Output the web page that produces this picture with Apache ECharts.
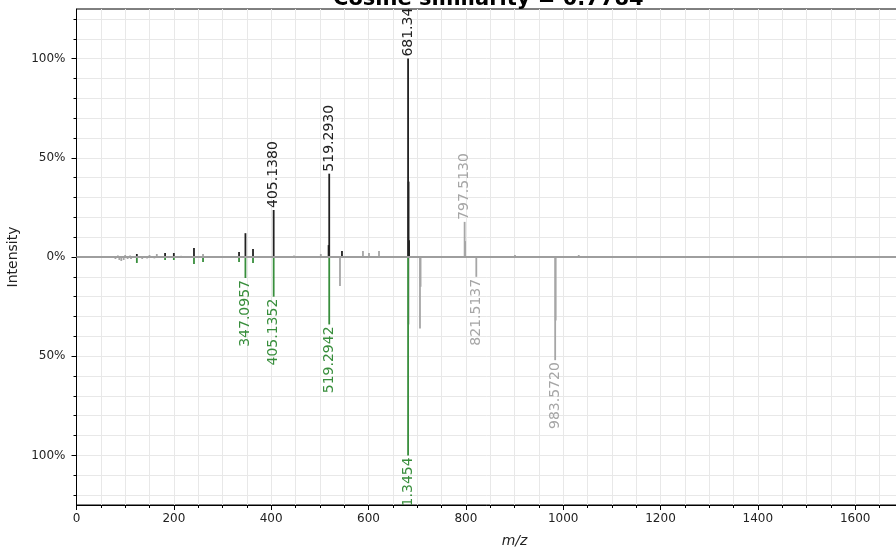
<!DOCTYPE html>
<html>
<head>
<meta charset="utf-8">
<script src="https://cdn.jsdelivr.net/npm/echarts@6/dist/echarts.min.js"></script>
<style>
html,body{margin:0;padding:0;background:#fff;}
#chart{width:896px;height:548px;}
</style>
</head>
<body>
<div id="chart"></div>
<script>
// ---- data (m/z, relative intensity %) ----
const titleText = "Cosine similarity = 0.7784";
const xTickValues = [0, 200, 400, 600, 800, 1000, 1200, 1400, 1600];
const yTickLabels = [-100, -50, 0, 50, 100];
const yMinorTicks = [-120,-110,-100,-90,-80,-70,-60,-50,-40,-30,-20,-10,0,10,20,30,40,50,60,70,80,90,100,110,120];

// top spectrum, matched peaks (dark)
const topMatched = [
  [124, 1.5], [182, 2], [200, 2], [241.4, 4.5], [334, 2.5], [347.1, 12],
  [362.7, 4], [405.138, 23.7], [518.0, 6], [519.293, 42], [545.5, 3],
  [681.34, 100], [682.34, 38], [683.34, 8.5]
];
// top spectrum, unmatched peaks (grey)
const topOther = [
  [60, 0.5], [85, 0.8], [100, 1], [110, 0.7], [150, 1], [165, 1.5], [215, 0.6],
  [260, 1.5], [447, 0.8], [502, 1.5], [568, 0.5], [588.6, 3], [601, 2], [621.6, 3],
  [797.513, 17.7], [798.5, 8], [901, 1], [1032, 1]
];
// bottom spectrum, matched peaks (green)
const bottomMatched = [
  [124, -3], [182, -1.5], [200, -1.5], [241.4, -3.5], [260, -2.5], [334, -2.5],
  [347.0957, -10.6], [362.7, -3], [405.1352, -20], [519.2942, -34], [681.3454, -100]
];
// bottom spectrum, unmatched peaks (grey)
const bottomOther = [
  [55, -0.5], [80, -1], [88, -1.5], [92, -2], [97, -1.5], [105, -1], [112, -1],
  [135, -1], [145, -0.8], [160, -0.7], [541.4, -14.6], [682.35, -34],
  [705.8, -36], [707, -15], [821.5137, -10], [983.572, -52], [984.57, -32]
];

// annotations
const topLabelsDark = [[681.34, 100, "681.3440"], [519.293, 42, "519.2930"], [405.138, 23.7, "405.1380"]];
const topLabelsGrey = [[797.513, 17.7, "797.5130"]];
const bottomLabelsGreen = [[347.0957, -10.6, "347.0957"], [405.1352, -20, "405.1352"], [519.2942, -34, "519.2942"], [681.3454, -100, "681.3454"]];
const bottomLabelsGrey = [[821.5137, -10, "821.5137"], [983.572, -52, "983.5720"]];

// ---- styles ----
const DARK = '#212121', GREY = '#a6a6a6', GREEN = '#388E3C';
const FONT = '"DejaVu Sans", sans-serif';

function peakSeries(data, color) {
  return {
    type: 'custom', data: data, clip: true, z: 2,
    renderItem: function (params, api) {
      const base = api.coord([api.value(0), 0]);
      const tip = api.coord([api.value(0), api.value(1)]);
      return { type: 'line', shape: { x1: base[0], y1: base[1], x2: tip[0], y2: tip[1] },
               style: { stroke: color, lineWidth: 1.8 } };
    }
  };
}
function labelSeries(labels, color, top) {
  return {
    type: 'custom', clip: true, z: 3,
    data: labels.map(function (d) { return [d[0], d[1]]; }),
    renderItem: function (params, api) {
      const tip = api.coord([api.value(0), api.value(1)]);
      return {
        type: 'text', x: tip[0], y: top ? tip[1] - 2 : tip[1] + 2, rotation: Math.PI / 2,
        style: { text: labels[params.dataIndex][2], fill: color, font: '14px ' + FONT,
                 align: top ? 'left' : 'right', verticalAlign: 'middle' }
      };
    }
  };
}

const chart = echarts.init(document.getElementById('chart'), null, { renderer: 'canvas' });
chart.setOption({
  animation: false,
  backgroundColor: '#fff',
  title: {
    text: titleText, left: 333, top: -11, padding: 0,
    textStyle: { fontFamily: FONT, fontSize: 21, fontWeight: 'bold', color: '#000' }
  },
  grid: { left: 76.5, top: 9, width: 876, height: 496, outerBoundsMode: 'none', containLabel: false,
          show: true, borderColor: '#000', borderWidth: 1, backgroundColor: 'transparent' },
  xAxis: {
    type: 'value', min: 0, max: 1800, interval: 200,
    name: 'm/z', nameLocation: 'middle', nameGap: 29,
    nameTextStyle: { fontFamily: FONT, fontSize: 14, fontStyle: 'italic', color: '#222' },
    axisLine: { show: true, onZero: false, lineStyle: { color: '#000', width: 1 } },
    axisTick: { show: true, length: 5, lineStyle: { color: '#000' } },
    minorTick: { show: true, splitNumber: 4, length: 3, lineStyle: { color: '#000' } },
    axisLabel: { fontFamily: FONT, fontSize: 12, color: '#222', margin: 8,
                 formatter: function (v) { return xTickValues.indexOf(v) >= 0 ? String(v) : ''; } },
    splitLine: { show: true, lineStyle: { color: '#e8e8e8', width: 1 } },
    minorSplitLine: { show: true, lineStyle: { color: '#e8e8e8', width: 1 } }
  },
  yAxis: [{
    type: 'value', min: -125, max: 125,
    name: 'Intensity', nameLocation: 'middle', nameGap: 50,
    nameTextStyle: { fontFamily: FONT, fontSize: 14, color: '#222' },
    axisLine: { show: true, onZero: false, lineStyle: { color: '#000', width: 1 } },
    axisTick: { show: true, length: 3, customValues: yMinorTicks, lineStyle: { color: '#000' } },
    axisLabel: { fontFamily: FONT, fontSize: 12, color: '#222', margin: 11, customValues: yTickLabels,
                 formatter: function (v) { return Math.abs(v) + '%'; } },
    splitLine: { show: true, lineStyle: { color: '#e8e8e8', width: 1 } }
  }, {
    type: 'value', min: -125, max: 125, position: 'left',
    axisLine: { show: false },
    axisTick: { show: true, length: 5, customValues: yTickLabels, lineStyle: { color: '#000' } },
    axisLabel: { show: false },
    splitLine: { show: false }
  }],
  series: [
    peakSeries(topOther, GREY),
    peakSeries(bottomOther, GREY),
    peakSeries(topMatched, DARK),
    peakSeries(bottomMatched, GREEN),
    {
      type: 'line', data: [], z: 5,
      markLine: { silent: true, symbol: 'none', label: { show: false },
                  lineStyle: { color: '#9E9E9E', width: 2, type: 'solid' },
                  data: [{ yAxis: 0 }] }
    },
    labelSeries(topLabelsDark, DARK, true),
    labelSeries(topLabelsGrey, GREY, true),
    labelSeries(bottomLabelsGreen, GREEN, false),
    labelSeries(bottomLabelsGrey, GREY, false)
  ]
});
</script>
</body>
</html>
